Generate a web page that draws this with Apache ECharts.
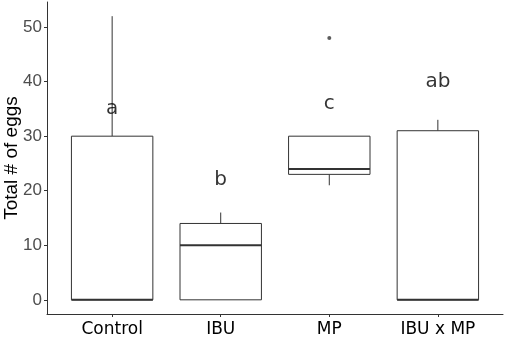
<!DOCTYPE html>
<html><head><meta charset="utf-8">
<script src="https://cdn.jsdelivr.net/npm/echarts@6/dist/echarts.min.js"></script>
<style>html,body{margin:0;padding:0;background:#fff}#c{width:505px;height:338px}</style>
</head><body><div id="c"></div>
<script>
var categories = ['Control', 'IBU', 'MP', 'IBU x MP'];
// [min, Q1, median, Q3, max]
var boxStats = [
  [0, 0, 0, 30, 52],
  [0, 0, 10, 14, 16],
  [21, 23, 24, 30, 30],
  [0, 0, 0, 31, 33]
];
var outliers = [[3, 48]];
var letters = ['a', 'b', 'c', 'ab'];
var letterY = [35, 22, 36, 40];
var yTicks = [0, 10, 20, 30, 40, 50];

var boxData = boxStats.map(function (s, i) { return [i + 1].concat(s); });
var letterData = letters.map(function (t, i) { return [i + 1, letterY[i], t]; });

var chart = echarts.init(document.getElementById('c'), null, {renderer: 'canvas'});
chart.setOption({
  animation: false,
  grid: {left: 47, right: 2, top: 2, bottom: 24, containLabel: false, outerBoundsMode: 'none'},
  xAxis: {
    type: 'value', min: 0.4, max: 4.6,
    splitLine: {show: false},
    axisLine: {onZero: false, lineStyle: {color: '#333', width: 1}},
    axisTick: {show: true, length: 3, lineStyle: {color: '#333'}, customValues: [1, 2, 3, 4]},
    axisLabel: {customValues: [1, 2, 3, 4], margin: 7, color: '#000', fontFamily: 'DejaVu Sans', fontSize: 17,
      formatter: function (v) { return categories[Math.round(v) - 1] || ''; }}
  },
  yAxis: {
    type: 'value', min: -2.6, max: 54.6,
    name: 'Total # of eggs', nameLocation: 'middle', nameGap: 35, nameMoveOverlap: false,
    nameTextStyle: {color: '#000', fontFamily: 'Liberation Sans', fontSize: 19, verticalAlign: 'middle'},
    splitLine: {show: false},
    axisLine: {show: true, onZero: false, lineStyle: {color: '#333', width: 1}},
    axisTick: {show: true, length: 3, lineStyle: {color: '#333'}, customValues: yTicks},
    axisLabel: {customValues: yTicks, margin: 5, color: '#4d4d4d', fontFamily: 'Liberation Sans', fontSize: 17}
  },
  series: [
    {
      type: 'custom',
      data: boxData,
      encode: {x: 0, y: [1, 2, 3, 4, 5]},
      renderItem: function (params, api) {
        var x = api.value(0);
        var w = 0.375;
        var mn = api.value(1), q1 = api.value(2), md = api.value(3), q3 = api.value(4), mx = api.value(5);
        var pl = api.coord([x - w, q3]);
        var pr = api.coord([x + w, q1]);
        var pc = api.coord([x, md]);
        var pMin = api.coord([x, mn]);
        var pMax = api.coord([x, mx]);
        var pQ1 = api.coord([x, q1]);
        var pQ3 = api.coord([x, q3]);
        var lineStyle = {stroke: '#333', lineWidth: 1, fill: null};
        var children = [];
        if (mx > q3) children.push({type: 'line', shape: {x1: pc[0], y1: pQ3[1], x2: pc[0], y2: pMax[1]}, style: lineStyle});
        if (mn < q1) children.push({type: 'line', shape: {x1: pc[0], y1: pQ1[1], x2: pc[0], y2: pMin[1]}, style: lineStyle});
        children.push({type: 'rect', shape: {x: pl[0], y: pl[1], width: pr[0] - pl[0], height: pr[1] - pl[1]},
          style: {stroke: '#333', lineWidth: 1, fill: '#fff'}});
        children.push({type: 'line', shape: {x1: pl[0], y1: pc[1], x2: pr[0], y2: pc[1]}, style: {stroke: '#333', lineWidth: 2}});
        return {type: 'group', children: children};
      }
    },
    {
      type: 'scatter', data: outliers, symbol: 'circle', symbolSize: 4,
      itemStyle: {color: '#333'}
    },
    {
      type: 'scatter', data: letterData, symbolSize: 0,
      label: {show: true, position: 'inside', color: '#000', fontFamily: 'DejaVu Sans', fontSize: 20,
        formatter: function (p) { return p.value[2]; }}
    }
  ]
});
</script></body></html>
